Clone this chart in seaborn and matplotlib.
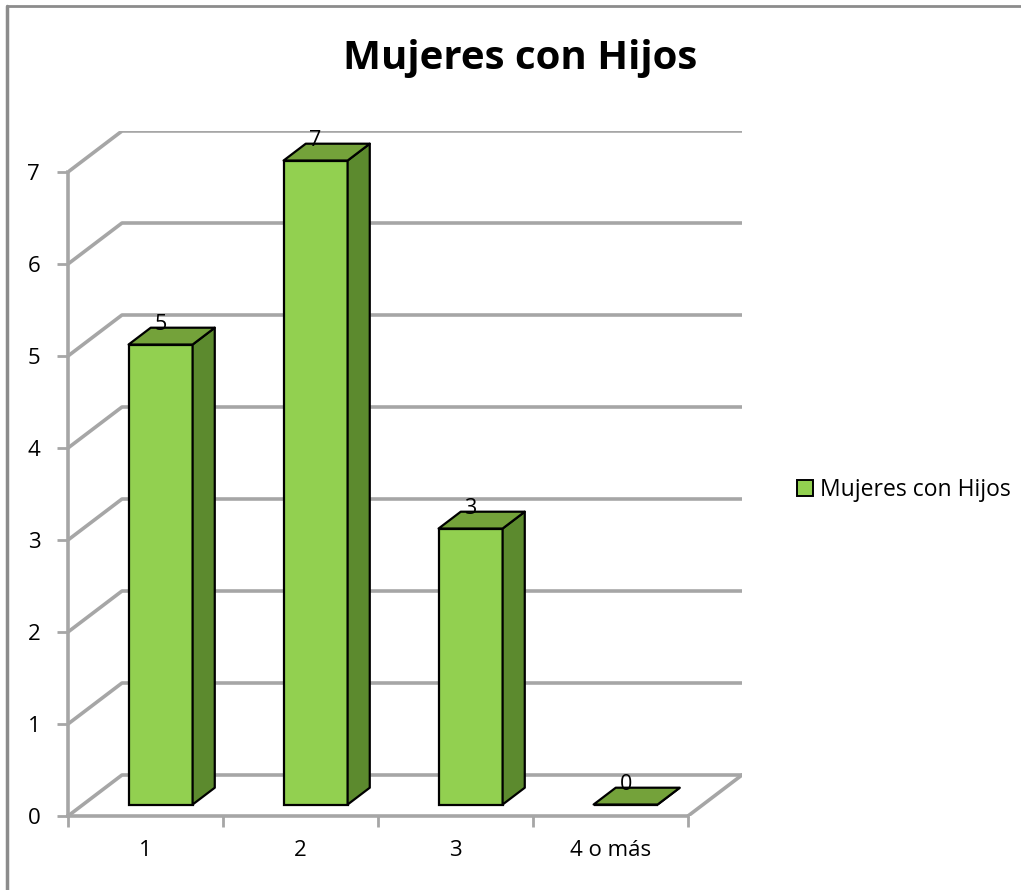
import numpy as np
import matplotlib
matplotlib.use("Agg")
import matplotlib.pyplot as plt
import seaborn as sns
from matplotlib.patches import Polygon, Rectangle
from matplotlib.lines import Line2D
from matplotlib.transforms import Affine2D

# datos
categorias = ["1", "2", "3", "4 o más"]
valores = [5, 7, 3, 0]
serie = "Mujeres con Hijos"
titulo = "Mujeres con Hijos"
y_ticks = [0, 1, 2, 3, 4, 5, 6, 7]

sns.set_theme(style="white")
plt.rcParams["font.family"] = ["Open Sans", "DejaVu Sans"]
plt.rcParams["text.color"] = "black"
plt.rcParams["xtick.color"] = "black"
plt.rcParams["ytick.color"] = "black"

verde = "#92D050"
verde_top = "#74A23A"
verde_lado = "#5C8A2E"
gris = "#A6A6A6"

fig = plt.figure(figsize=(10.21, 8.9), dpi=100)
W, H = 1021, 890

# 3D wall depth in data units
ddx = 54 / 155
ddy = 41 / 92
ax = fig.add_axes([68 / W, 74 / H, (155 * 4 + 54) / W, (92 * 7 + 41) / H])

# bars
bw = 0.413
f0, fd = 0.28, 0.41
sx, sy = f0 * ddx, f0 * ddy
bdx, bdy = fd * ddx, fd * ddy

sns.barplot(x=categorias, y=valores, color=verde, saturation=1,
            width=bw, edgecolor="black", linewidth=1.6, ax=ax, zorder=3)
ax.set_xlim(-0.5, 3.5 + ddx)
ax.set_ylim(0, 7 + ddy)

# back gridlines (walls)
for v in y_ticks:
    ax.plot([-0.5, -0.5 + ddx, 3.5 + ddx], [v, v + ddy, v + ddy],
            color=gris, lw=2.6, solid_capstyle="butt", zorder=1)
ax.plot([3.5, 3.5 + ddx], [0, ddy], color=gris, lw=2.6, zorder=1)

shift = Affine2D().translate(sx, sy) + ax.transData
for p in ax.patches:
    p.set_transform(shift)
    x0 = p.get_x() + sx
    x1 = x0 + p.get_width()
    top = p.get_height() + sy
    base = sy
    # side face
    ax.add_patch(Polygon([(x1, base), (x1 + bdx, base + bdy), (x1 + bdx, top + bdy), (x1, top)],
                         closed=True, facecolor=verde_lado, edgecolor="black", lw=1.6,
                         joinstyle="round", zorder=3))
    # top face
    ax.add_patch(Polygon([(x0, top), (x1, top), (x1 + bdx, top + bdy), (x0 + bdx, top + bdy)],
                         closed=True, facecolor=verde_top, edgecolor="black", lw=1.6,
                         joinstyle="round", zorder=4))

for i, v in enumerate(valores):
    ax.text(i + sx, v + sy + bdy - 0.08, str(v), ha="center", va="bottom",
            fontsize=15.5, color="black", zorder=6)

# axes
for s in ["top", "right"]:
    ax.spines[s].set_visible(False)
ax.spines["left"].set_bounds(0, 7)
ax.spines["bottom"].set_bounds(-0.5, 3.5)
for s in ["left", "bottom"]:
    ax.spines[s].set_color(gris)
    ax.spines[s].set_linewidth(2.6)
    ax.spines[s].set_zorder(2)
ax.set_yticks(y_ticks)
ax.set_yticklabels([str(t) for t in y_ticks], fontsize=16)
ax.tick_params(axis="y", which="major", length=8, width=2, color=gris, pad=12, left=True)
ax.set_xticks(range(len(categorias)))
ax.set_xticklabels(categorias, fontsize=16)
ax.set_xticks(np.arange(-0.5, len(categorias)), minor=True)
ax.tick_params(axis="x", which="major", length=0, pad=17)
ax.tick_params(axis="x", which="minor", length=8, width=2, color=gris, bottom=True)
ax.set_xlabel("")
ax.set_ylabel("")

fig.text(520 / W, 1 - 58 / H, titulo, ha="center", va="center",
         fontsize=29, fontweight="bold")

# legend
leg_h = [Rectangle((0, 0), 1, 1, facecolor=verde, edgecolor="black", lw=1.4)]
fig.legend(leg_h, [serie], loc="center left", bbox_to_anchor=(788 / W, 1 - 490 / H),
           frameon=False, fontsize=16.5, handlelength=0.7, handleheight=0.7,
           handletextpad=0.3, borderaxespad=0)

# outer frame (top & left visible)
fig.add_artist(Line2D([7 / W, 7 / W], [0, 1 - 6 / H], color="#8C8C8C", lw=2.5))
fig.add_artist(Line2D([7 / W, 1], [1 - 6 / H, 1 - 6 / H], color="#8C8C8C", lw=2))

fig.savefig("out.png", dpi=100)
